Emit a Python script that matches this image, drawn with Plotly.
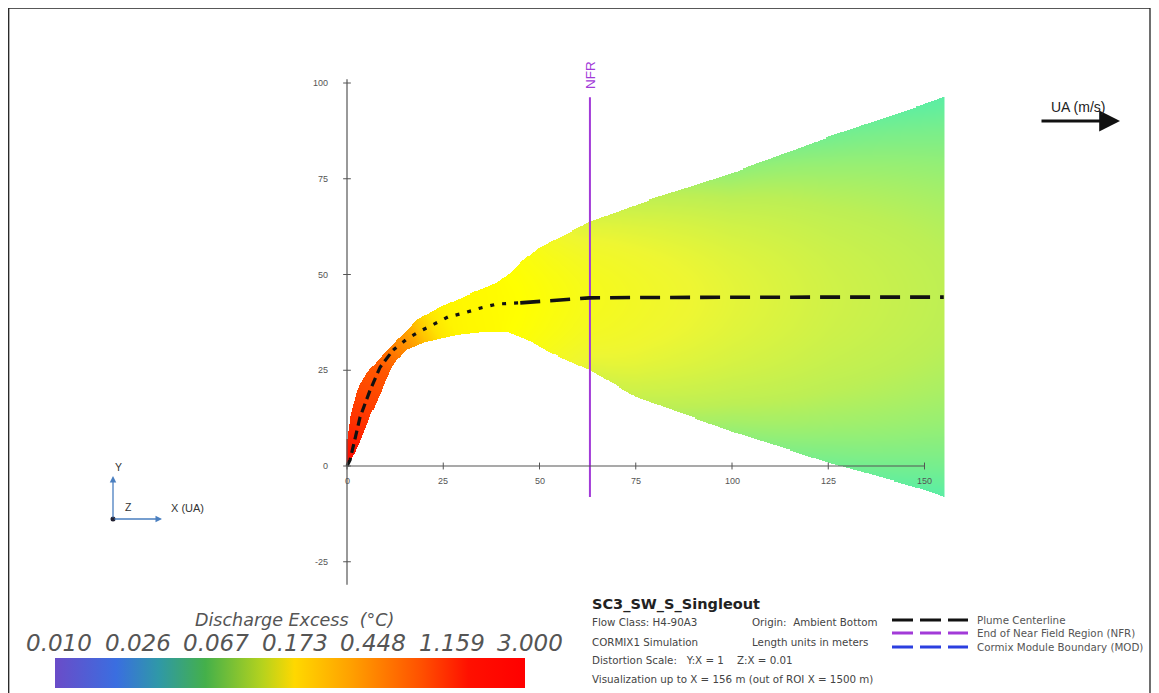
import numpy as np
import plotly.graph_objects as go

W, H = 1159, 693
OFF = 8  # page body margin of the browser

# ---------------- data ----------------
# plume centerline (m)
cl_x = [0, 0.8, 3.4, 6.0, 8.6, 12.0, 15.6, 19.0, 22.9, 26.2, 30.6, 34.5, 39.0, 45.0, 51.9, 63.0, 77.0, 100, 125, 155]
cl_y = [0, 1.6, 12.8, 19.8, 25.8, 30.3, 33.2, 35.2, 37.3, 38.9, 40.0, 41.2, 42.3, 42.6, 43.1, 43.9, 44.0, 44.1, 44.1, 44.1]
# centerline discharge excess (deg C) and edge/center ratio
cl_c = [3.0, 2.6, 1.6, 1.3, 1.1, 0.75, 0.55, 0.40, 0.30, 0.26, 0.25, 0.245, 0.24, 0.23, 0.21, 0.18, 0.16, 0.135, 0.115, 0.10]
edge_r = [1, 1, 1, 1, 1, 1, 1, 1, 1, 1, 1, 1, 1, 0.95, 0.85, 0.7, 0.65, 0.6, 0.6, 0.6]
# plume boundaries
up_x = [0, 0.8, 2.6, 5.2, 8.1, 11.2, 14.3, 18.2, 24.2, 32.7, 39.0, 42.3, 45.0, 50.0, 63.0, 78.7, 100, 125, 150, 155]
up_y = [7.0, 12.8, 19.8, 24.3, 27.7, 30.8, 34.2, 38.1, 41.5, 45.2, 47.8, 50.4, 53.0, 57.0, 63.7, 69.5, 76.5, 85.9, 94.5, 96.3]
lo_x = [0, 2.9, 6.0, 9.4, 11.7, 13.0, 15.6, 20.8, 28.6, 35.3, 41.6, 46.8, 52.7, 63.0, 75, 100, 125, 150, 155]
lo_y = [0, 5.0, 12.8, 20.6, 25.8, 27.7, 30.3, 32.4, 34.2, 35.0, 35.0, 32.9, 29.5, 25.0, 18.0, 8.9, 0.8, -6.3, -8.1]

nfr_x = 63.1
x_ticks = [0, 25, 50, 75, 100, 125, 150]
y_ticks = [-25, 0, 25, 50, 75, 100]
cbar_labels = ["0.010", "0.026", "0.067", "0.173", "0.448", "1.159", "3.000"]
c_min, c_max = 0.010, 3.000

legend_items = ["Plume Centerline", "End of Near Field Region (NFR)", "Cormix Module Boundary (MOD)"]
legend_colors = ["#111111", "#a23ad8", "#2b3fe0"]

# ---------------- scales ----------------
X0PX, XS = 347 - OFF, 3.85   # pixel of x=0, px per m
Y0PX, YS = 466 - OFF, 3.83
x_range = [-X0PX / XS, (W - X0PX) / XS]
y_range = [-(H - Y0PX) / YS, Y0PX / YS]

def px(v):
    return (v - OFF) / W

def py(v):
    return 1 - (v - OFF) / H

plume_cs = [[0.0, '#7050d8'], [0.15, '#4080f0'], [0.25, '#40d8d0'], [0.32, '#60eea0'],
            [0.40, '#bcef55'], [0.47, '#eef632'], [0.55, '#ffff00'], [0.61, '#ffe000'],
            [0.68, '#ffa800'], [0.78, '#ff7000'], [0.88, '#ff3c00'], [1.0, '#ff0000']]
cbar_cs = [[0.0, '#6a4cc8'], [0.13, '#3a6ee0'], [0.22, '#2f98a8'], [0.32, '#44b04a'],
           [0.44, '#b4d21e'], [0.51, '#ffd800'], [0.63, '#ffa000'], [0.78, '#ff5000'],
           [0.88, '#ff1000'], [1.0, '#ff0000']]

# ---------------- plume field ----------------
L0, L1 = np.log10(c_min), np.log10(c_max)
cx, cy = np.array(cl_x, float), np.array(cl_y, float)
seg_len = np.hypot(np.diff(cx), np.diff(cy))
cum = np.concatenate([[0], np.cumsum(seg_len)])
logc = np.log10(cl_c)
logr = np.log10(edge_r)

gx = np.arange(0, 155.01, 0.27)
gy = np.arange(-8.6, 97.2, 0.27)
GX, GY = np.meshgrid(gx, gy)
upg = np.interp(GX, up_x, up_y)
log_ = np.interp(GX, lo_x, lo_y)
mask = (GY <= upg) & (GY >= log_) & (GX <= 155)

P = np.stack([GX[mask], GY[mask]], axis=1)
A = np.stack([cx[:-1], cy[:-1]], axis=1)
AB = np.stack([np.diff(cx), np.diff(cy)], axis=1)
rel = P[:, None, :] - A[None, :, :]
tt = np.clip((rel * AB[None]).sum(-1) / (seg_len ** 2)[None], 0, 1)
Q = A[None] + tt[..., None] * AB[None]
d = np.hypot(P[:, None, 0] - Q[..., 0], P[:, None, 1] - Q[..., 1])
k = d.argmin(1)
s = cum[k] + tt[np.arange(len(k)), k] * seg_len[k]
lc = np.interp(s, cum, logc)
lr = np.interp(s, cum, logr)
yc = np.interp(P[:, 0], cx, cy)
u = upg[mask]
l = log_[mask]
r = np.where(P[:, 1] >= yc, (P[:, 1] - yc) / np.maximum(u - yc, 1e-3), (yc - P[:, 1]) / np.maximum(yc - l, 1e-3))
r = np.clip(r, 0, 1)
tval = (lc + r ** 2 * lr - L0) / (L1 - L0)
Z = np.full(GX.shape, np.nan, dtype=np.float32)
Z[mask] = tval.astype(np.float32)

fig = go.Figure()
fig.add_trace(go.Heatmap(x=gx.astype(np.float32), y=gy.astype(np.float32), z=Z, zmin=0, zmax=1,
                         colorscale=plume_cs, showscale=False, zsmooth=False, hoverinfo='skip'))

# NFR line spanning the plume extent at its end
fig.add_trace(go.Scatter(x=[nfr_x, nfr_x], y=[lo_y[-1], up_y[-1]], mode='lines',
                         line=dict(color='#a23ad8', width=2), hoverinfo='skip', showlegend=False))

# centerline, three modules with different dashes
parts = [(0, 6, '9px,5px', 3.2), (5, 14, '4px,8px', 3.2), (13, len(cl_x), '20px,10px', 3.6)]
for a, b, dash, w in parts:
    fig.add_trace(go.Scatter(x=cl_x[a:b], y=cl_y[a:b], mode='lines',
                             line=dict(color='#111111', width=w, dash=dash),
                             hoverinfo='skip', showlegend=False))

# colorbar (dummy trace)
fig.add_trace(go.Scatter(x=[None, None], y=[None, None], mode='markers',
                         marker=dict(color=[0, 1], cmin=0, cmax=1, colorscale=cbar_cs, showscale=True,
                                     colorbar=dict(orientation='h', lenmode='pixels', len=470,
                                                   thickness=30, x=px(55), xanchor='left',
                                                   y=py(688), yanchor='bottom', xpad=0, ypad=0,
                                                   outlinewidth=0, showticklabels=False, ticks='')),
                         hoverinfo='skip', showlegend=False))

shapes = []
ann = []
axc = '#555555'


def pann(x, y, text, xanchor='center', **kw):
    d = dict(x=px(x), y=py(y), xref='paper', yref='paper', text=text, showarrow=False,
             xanchor=xanchor, yanchor='middle')
    d.update(kw)
    return d


# axes lines
shapes.append(dict(type='line', xref='x', yref='y', x0=0, y0=0, x1=x_ticks[-1], y1=0, line=dict(color=axc, width=1.2)))
shapes.append(dict(type='line', xref='x', yref='y', x0=0, y0=-31, x1=0, y1=y_ticks[-1] + 1, line=dict(color=axc, width=1.2)))
for t in x_ticks:
    shapes.append(dict(type='line', xref='x', yref='y', x0=t, x1=t, y0=-0.9, y1=0.9, line=dict(color=axc, width=1)))
    ann.append(dict(x=t, y=0, xref='x', yref='y', text=str(t), showarrow=False, yshift=-15,
                    xanchor='center', yanchor='middle',
                    font=dict(family='Liberation Sans', size=9, color='#555')))
for t in y_ticks:
    shapes.append(dict(type='line', xref='x', yref='y', x0=-1.0, x1=1.0, y0=t, y1=t, line=dict(color=axc, width=1)))
    ann.append(dict(x=0, y=t, xref='x', yref='y', text=str(t), showarrow=False, xanchor='right', xshift=-17,
                    yanchor='middle', font=dict(family='Liberation Sans', size=9, color='#555')))

# NFR label
ann.append(dict(x=nfr_x, y=up_y[-1], xref='x', yref='y', text='NFR', textangle=-90, showarrow=False,
                xanchor='center', yanchor='bottom', yshift=6,
                font=dict(family='Liberation Sans', size=13.5, color='#a23ad8')))

# UA arrow
ann.append(dict(x=px(1120), y=py(121), xref='paper', yref='paper', ax=-80, ay=0, text='', showarrow=True,
                arrowhead=2, arrowsize=1.3, arrowwidth=3.2, arrowcolor='#111'))
ann.append(pann(1078, 107, 'UA (m/s)', font=dict(family='Liberation Sans', size=14, color='#222')))

# orientation icon
icol = '#4a7fc0'
ann.append(dict(x=px(113), y=py(476), xref='paper', yref='paper', ax=0, ay=43, text='', showarrow=True,
                arrowhead=2, arrowsize=1, arrowwidth=1.3, arrowcolor=icol))
ann.append(dict(x=px(162), y=py(519), xref='paper', yref='paper', ax=-49, ay=0, text='', showarrow=True,
                arrowhead=2, arrowsize=1, arrowwidth=1.3, arrowcolor=icol))
shapes.append(dict(type='circle', xref='paper', yref='paper', x0=px(110.5), x1=px(115.5), y0=py(521.5), y1=py(516.5),
                   fillcolor='#223', line=dict(width=0)))
for txt, xx, yy, fs in [('Y', 118, 467, 10.5), ('Z', 128, 507, 10.5), ('X (UA)', 187, 508, 11)]:
    ann.append(pann(xx, yy, txt, font=dict(family='Liberation Sans', size=fs, color='#333')))

# colorbar title and labels
ann.append(pann(294, 620, 'Discharge Excess  (°C)',
                font=dict(family='DejaVu Sans', size=17.5, color='#555', style='italic')))
for i, lab in enumerate(cbar_labels):
    ann.append(pann(59 + 78.5 * i, 643, lab,
                    font=dict(family='DejaVu Sans', size=23, color='#555', style='italic')))

# info block
ann.append(pann(590, 604, '<b>SC3_SW_S_Singleout</b>', xanchor='left',
                font=dict(family='DejaVu Sans', size=14.5, color='#222')))
info1 = ['Flow Class: H4-90A3', 'CORMIX1 Simulation', 'Distortion Scale:   Y:X = 1    Z:X = 0.01',
         'Visualization up to X = 156 m (out of ROI X = 1500 m)']
info2 = ['Origin:  Ambient Bottom', 'Length units in meters']
ys_info = [622, 642, 660, 679]
for txt, yy in zip(info1, ys_info):
    ann.append(pann(590, yy, txt, xanchor='left', font=dict(family='DejaVu Sans', size=10.3, color='#444')))
for txt, yy in zip(info2, ys_info):
    ann.append(pann(750, yy, txt, xanchor='left', font=dict(family='DejaVu Sans', size=10.3, color='#444')))

# legend
for txt, col, yy in zip(legend_items, legend_colors, [620, 633, 647]):
    shapes.append(dict(type='line', xref='paper', yref='paper', x0=px(892), x1=px(968), y0=py(yy), y1=py(yy),
                       line=dict(color=col, width=3.2, dash='21px,7px')))
    ann.append(pann(975, yy, txt, xanchor='left', font=dict(family='DejaVu Sans', size=10.3, color='#555')))

# frame
shapes.append(dict(type='rect', xref='paper', yref='paper', x0=px(8.7), x1=px(1150), y0=-0.05, y1=py(8.2),
                   line=dict(color='#222', width=1.3)))

fig.update_layout(width=W, height=H, margin=dict(l=0, r=0, t=0, b=0), paper_bgcolor='white', plot_bgcolor='white',
                  xaxis=dict(range=x_range, visible=False, fixedrange=True),
                  yaxis=dict(range=y_range, visible=False, fixedrange=True),
                  showlegend=False, shapes=shapes, annotations=ann)
fig.write_html("out.html")
